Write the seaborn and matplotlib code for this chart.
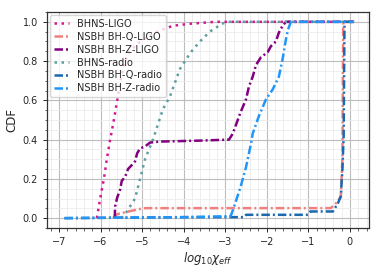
import numpy as np
import pandas as pd
import matplotlib
matplotlib.use("Agg")
import matplotlib.pyplot as plt
import seaborn as sns
from matplotlib.ticker import AutoMinorLocator

# ---- data ----
bhns_ligo_x = [-6.09, -6.01, -5.92, -5.85, -5.77, -5.68, -5.60, -5.52, -5.41, -5.30, -5.05, -4.64, -4.26, -3.85, -3.25, 0.10]
bhns_ligo_y = [0.0, 0.10, 0.20, 0.30, 0.40, 0.50, 0.60, 0.70, 0.80, 0.85, 0.90, 0.95, 0.98, 0.99, 1.0, 1.0]

q_ligo_x = [-5.70, -5.60, -5.41, -5.20, -4.98, -4.88, -2.00, -0.46, -0.29, -0.22, -0.18, -0.17, -0.16, 0.10]
q_ligo_y = [0.0, 0.02, 0.03, 0.04, 0.05, 0.051, 0.051, 0.051, 0.085, 0.11, 0.30, 0.70, 1.0, 1.0]

z_ligo_x = [-5.66, -5.65, -5.60, -5.53, -5.49, -5.41, -5.34, -5.25, -5.17, -5.12, -5.05, -4.93, -4.81, -4.57, -3.60, -2.91,
            -2.82, -2.63, -2.50, -2.43, -2.34, -2.26, -2.14, -1.98, -1.90, -1.78, -1.71, -1.62, -1.54, 0.10]
z_ligo_y = [0.0, 0.06, 0.105, 0.145, 0.19, 0.21, 0.25, 0.27, 0.29, 0.33, 0.355, 0.365, 0.385, 0.39, 0.395, 0.40,
            0.43, 0.54, 0.605, 0.67, 0.72, 0.78, 0.82, 0.845, 0.876, 0.90, 0.945, 0.98, 1.0, 1.0]

bhns_radio_x = [-5.50, -5.41, -5.17, -5.05, -4.93, -4.74, -4.50, -4.33, -4.09, -3.83, -3.61, -3.37, -3.08, -2.94, 0.10]
bhns_radio_y = [0.0, 0.02, 0.10, 0.20, 0.30, 0.40, 0.555, 0.62, 0.76, 0.845, 0.90, 0.95, 0.99, 1.0, 1.0]

q_radio_x = [-6.87, -4.00, -2.55, -2.50, -1.01, -0.95, -0.41, -0.29, -0.22, -0.18, -0.15, -0.13, 0.10]
q_radio_y = [0.0, 0.005, 0.005, 0.017, 0.017, 0.034, 0.034, 0.075, 0.11, 0.25, 0.42, 1.0, 1.0]

z_radio_x = [-6.87, -4.00, -2.87, -2.80, -2.63, -2.50, -2.38, -2.34, -2.19, -2.02, -1.86, -1.71, -1.62, -1.54, -1.49, -1.42, 0.10]
z_radio_y = [0.0, 0.005, 0.01, 0.05, 0.16, 0.26, 0.38, 0.43, 0.52, 0.605, 0.655, 0.72, 0.81, 0.91, 0.96, 1.0, 1.0]

labels = ["BHNS-LIGO", "NSBH BH-Q-LIGO", "NSBH BH-Z-LIGO", "BHNS-radio", "NSBH BH-Q-radio", "NSBH BH-Z-radio"]
series = [(bhns_ligo_x, bhns_ligo_y), (q_ligo_x, q_ligo_y), (z_ligo_x, z_ligo_y),
          (bhns_radio_x, bhns_radio_y), (q_radio_x, q_radio_y), (z_radio_x, z_radio_y)]
colors = ["#d4178f", "#f08080", "#800080", "#5f9ea0", "#1a68ad", "#2196f8"]
dotted = (0, (1.0, 1.8))
dashdot = (0, (3.4, 1.2, 0.8, 1.2))
styles = [dotted, dashdot, dashdot, dotted, dashdot, dashdot]

sns.set_style("ticks")
plt.rcParams['font.family'] = ['DejaVu Sans']

fig, ax = plt.subplots(figsize=(3.82, 2.73), dpi=100)
fig.subplots_adjust(left=0.123, right=0.966, top=0.956, bottom=0.165)

for (xs, ys), lab, c, ls in zip(series, labels, colors, styles):
    df = pd.DataFrame({"x": xs, "y": ys})
    sns.lineplot(data=df, x="x", y="y", sort=False, estimator=None, ax=ax,
                 color=c, linestyle=ls, linewidth=1.8, label=lab)

ax.set_xlim(-7.29, 0.46)
ax.set_ylim(-0.05, 1.05)
ax.xaxis.set_minor_locator(AutoMinorLocator(5))
ax.yaxis.set_minor_locator(AutoMinorLocator(4))
ax.grid(which="major", color="#bdbdbd", linewidth=0.8)
ax.grid(which="minor", color="#ebebeb", linewidth=0.6)
ax.set_axisbelow(True)
for s in ax.spines.values():
    s.set_color("#333333")
    s.set_linewidth(0.9)
ax.tick_params(which="major", labelsize=7, length=3, width=0.7)
ax.tick_params(which="minor", length=1.8, width=0.5)
ax.set_xticks([-7, -6, -5, -4, -3, -2, -1, 0])
ax.set_yticks([0.0, 0.2, 0.4, 0.6, 0.8, 1.0])
ax.set_xlabel(r"$log_{10}\chi_{eff}$", fontsize=8.5, labelpad=2)
ax.set_ylabel("CDF", fontsize=8.5, labelpad=3)
leg = ax.legend(loc="upper left", fontsize=7, frameon=True, handlelength=1.6,
                borderpad=0.4, labelspacing=0.3, handletextpad=0.8, borderaxespad=0.3)
leg.get_frame().set_edgecolor("#cccccc")
leg.get_frame().set_alpha(0.8)

fig.savefig("out.png", dpi=100)
